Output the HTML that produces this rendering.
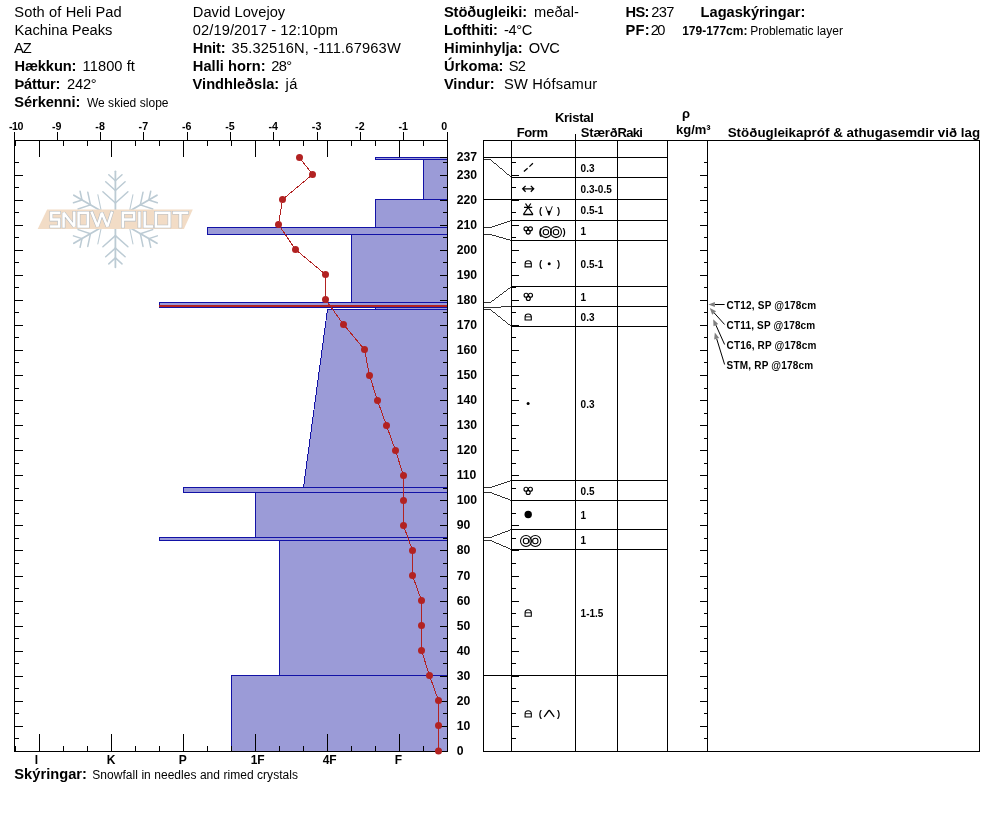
<!DOCTYPE html>
<html><head><meta charset="utf-8"><title>Snow profile</title>
<style>html,body{margin:0;padding:0;background:#fff;}svg{display:block;font-family:"Liberation Sans",sans-serif;will-change:transform;}</style>
</head><body>
<svg width="994" height="840" viewBox="0 0 994 840">
<rect width="994" height="840" fill="#fff"/>
<g stroke="#bccbd4" fill="none" stroke-linecap="round">
<g transform="rotate(0 115.4 219.3)"><line x1="115.4" y1="215.3" x2="115.4" y2="171.3" stroke-width="1.8"/><line x1="115.4" y1="180.70000000000002" x2="108.8" y2="174.7" stroke-width="1.5"/><line x1="115.4" y1="180.70000000000002" x2="122.0" y2="174.7" stroke-width="1.5"/><line x1="115.4" y1="190.5" x2="105.7" y2="181.8" stroke-width="1.5"/><line x1="115.4" y1="190.5" x2="125.1" y2="181.8" stroke-width="1.5"/><line x1="115.4" y1="203.0" x2="102.9" y2="191.8" stroke-width="1.5"/><line x1="115.4" y1="203.0" x2="127.9" y2="191.8" stroke-width="1.5"/></g>
<g transform="rotate(60 115.4 219.3)"><line x1="115.4" y1="215.3" x2="115.4" y2="171.3" stroke-width="1.8"/><line x1="115.4" y1="180.70000000000002" x2="108.8" y2="174.7" stroke-width="1.5"/><line x1="115.4" y1="180.70000000000002" x2="122.0" y2="174.7" stroke-width="1.5"/><line x1="115.4" y1="190.5" x2="105.7" y2="181.8" stroke-width="1.5"/><line x1="115.4" y1="190.5" x2="125.1" y2="181.8" stroke-width="1.5"/><line x1="115.4" y1="203.0" x2="102.9" y2="191.8" stroke-width="1.05"/><line x1="115.4" y1="203.0" x2="127.9" y2="191.8" stroke-width="1.05"/></g>
<g transform="rotate(120 115.4 219.3)"><line x1="115.4" y1="215.3" x2="115.4" y2="171.3" stroke-width="1.8"/><line x1="115.4" y1="180.70000000000002" x2="108.8" y2="174.7" stroke-width="1.5"/><line x1="115.4" y1="180.70000000000002" x2="122.0" y2="174.7" stroke-width="1.5"/><line x1="115.4" y1="190.5" x2="105.7" y2="181.8" stroke-width="1.5"/><line x1="115.4" y1="190.5" x2="125.1" y2="181.8" stroke-width="1.5"/><line x1="115.4" y1="203.0" x2="102.9" y2="191.8" stroke-width="1.05"/><line x1="115.4" y1="203.0" x2="127.9" y2="191.8" stroke-width="1.05"/></g>
<g transform="rotate(180 115.4 219.3)"><line x1="115.4" y1="215.3" x2="115.4" y2="171.3" stroke-width="1.8"/><line x1="115.4" y1="180.70000000000002" x2="108.8" y2="174.7" stroke-width="1.5"/><line x1="115.4" y1="180.70000000000002" x2="122.0" y2="174.7" stroke-width="1.5"/><line x1="115.4" y1="190.5" x2="105.7" y2="181.8" stroke-width="1.5"/><line x1="115.4" y1="190.5" x2="125.1" y2="181.8" stroke-width="1.5"/><line x1="115.4" y1="203.0" x2="102.9" y2="191.8" stroke-width="1.5"/><line x1="115.4" y1="203.0" x2="127.9" y2="191.8" stroke-width="1.5"/></g>
<g transform="rotate(240 115.4 219.3)"><line x1="115.4" y1="215.3" x2="115.4" y2="171.3" stroke-width="1.8"/><line x1="115.4" y1="180.70000000000002" x2="108.8" y2="174.7" stroke-width="1.5"/><line x1="115.4" y1="180.70000000000002" x2="122.0" y2="174.7" stroke-width="1.5"/><line x1="115.4" y1="190.5" x2="105.7" y2="181.8" stroke-width="1.5"/><line x1="115.4" y1="190.5" x2="125.1" y2="181.8" stroke-width="1.5"/><line x1="115.4" y1="203.0" x2="102.9" y2="191.8" stroke-width="1.05"/><line x1="115.4" y1="203.0" x2="127.9" y2="191.8" stroke-width="1.05"/></g>
<g transform="rotate(300 115.4 219.3)"><line x1="115.4" y1="215.3" x2="115.4" y2="171.3" stroke-width="1.8"/><line x1="115.4" y1="180.70000000000002" x2="108.8" y2="174.7" stroke-width="1.5"/><line x1="115.4" y1="180.70000000000002" x2="122.0" y2="174.7" stroke-width="1.5"/><line x1="115.4" y1="190.5" x2="105.7" y2="181.8" stroke-width="1.5"/><line x1="115.4" y1="190.5" x2="125.1" y2="181.8" stroke-width="1.5"/><line x1="115.4" y1="203.0" x2="102.9" y2="191.8" stroke-width="1.05"/><line x1="115.4" y1="203.0" x2="127.9" y2="191.8" stroke-width="1.05"/></g>
</g>
<polygon points="47.1,209.6 192.8,209.6 183.9,228.9 37.7,228.9" fill="#f2dcc6"/>
<path d="M59.1,212.8 H51.3 V219.6 H59.1 V226.5 H51.3 M63.6,226.5 V212.8 L74.3,226.5 V212.8 M78.6,212.8 H87.8 V226.5 H78.6 Z M91.9,212.8 L97.5,226.5 L101.8,212.8 L107.4,226.5 L111.7,212.8 M122.9,226.5 V212.8 H134.1 V219.6 H122.9 M139.4,212.8 V226.5 M144.7,212.8 V226.5 H151.8 M155.9,212.8 H169.4 V226.5 H155.9 Z M174,212.8 H187.1 M180.4,212.8 V226.5" fill="none" stroke="#b4bcc3" stroke-width="3.6" stroke-linejoin="miter" stroke-miterlimit="1.5" stroke-linecap="square"/>
<path d="M59.1,212.8 H51.3 V219.6 H59.1 V226.5 H51.3 M63.6,226.5 V212.8 L74.3,226.5 V212.8 M78.6,212.8 H87.8 V226.5 H78.6 Z M91.9,212.8 L97.5,226.5 L101.8,212.8 L107.4,226.5 L111.7,212.8 M122.9,226.5 V212.8 H134.1 V219.6 H122.9 M139.4,212.8 V226.5 M144.7,212.8 V226.5 H151.8 M155.9,212.8 H169.4 V226.5 H155.9 Z M174,212.8 H187.1 M180.4,212.8 V226.5" fill="none" stroke="#ffffff" stroke-width="2.5" stroke-linejoin="miter" stroke-miterlimit="1.5" stroke-linecap="square"/>
<text x="14.30" y="16.6" font-size="14.67" font-weight="normal" textLength="107.46" fill="#000" >Soth of Heli Pad</text>
<text x="14.50" y="34.6" font-size="14.67" font-weight="normal" textLength="97.95" fill="#000" >Kachina Peaks</text>
<text x="14.00" y="52.6" font-size="14.67" font-weight="normal" textLength="17.74" fill="#000" >AZ</text>
<text x="14.40" y="70.6" font-size="14.67" font-weight="bold" textLength="62.05" fill="#000" >Hækkun:</text>
<text x="82.60" y="70.6" font-size="14.67" font-weight="normal" textLength="52.32" fill="#000" >11800 ft</text>
<text x="14.40" y="88.6" font-size="14.67" font-weight="bold" textLength="46.10" fill="#000" >Þáttur:</text>
<text x="67.00" y="88.6" font-size="14.67" font-weight="normal" textLength="29.70" fill="#000" >242°</text>
<text x="14.30" y="106.6" font-size="14.67" font-weight="bold" textLength="66.02" fill="#000" >Sérkenni:</text>
<text x="86.90" y="106.6" font-size="12" font-weight="normal" textLength="81.63" fill="#000" >We skied slope</text>
<text x="192.80" y="16.6" font-size="14.67" font-weight="normal" textLength="92.38" fill="#000" >David Lovejoy</text>
<text x="192.80" y="34.6" font-size="14.67" font-weight="normal" textLength="145.17" fill="#000" >02/19/2017 - 12:10pm</text>
<text x="192.80" y="52.6" font-size="14.67" font-weight="bold" textLength="32.75" fill="#000" >Hnit:</text>
<text x="231.60" y="52.6" font-size="14.67" font-weight="normal" textLength="169.13" fill="#000" >35.32516N, -111.67963W</text>
<text x="192.80" y="70.6" font-size="14.67" font-weight="bold" textLength="72.86" fill="#000" >Halli horn:</text>
<text x="271.30" y="70.6" font-size="14.67" font-weight="normal" textLength="20.89" fill="#000" >28°</text>
<text x="192.60" y="88.6" font-size="14.67" font-weight="bold" textLength="86.66" fill="#000" >Vindhleðsla:</text>
<text x="285.59" y="88.6" font-size="14.67" font-weight="normal" textLength="11.79" fill="#000" >já</text>
<text x="443.90" y="16.6" font-size="14.67" font-weight="bold" textLength="83.16" fill="#000" >Stöðugleiki:</text>
<text x="534.00" y="16.6" font-size="14.67" font-weight="normal" textLength="44.85" fill="#000" >meðal-</text>
<text x="444.10" y="34.6" font-size="14.67" font-weight="bold" textLength="53.73" fill="#000" >Lofthiti:</text>
<text x="504.00" y="34.6" font-size="14.67" font-weight="normal" textLength="28.34" fill="#000" >-4°C</text>
<text x="444.10" y="52.6" font-size="14.67" font-weight="bold" textLength="78.45" fill="#000" >Himinhylja:</text>
<text x="528.80" y="52.6" font-size="14.67" font-weight="normal" textLength="31.14" fill="#000" >OVC</text>
<text x="444.10" y="70.6" font-size="14.67" font-weight="bold" textLength="59.35" fill="#000" >Úrkoma:</text>
<text x="508.70" y="70.6" font-size="14.67" font-weight="normal" textLength="17.31" fill="#000" >S2</text>
<text x="443.90" y="88.6" font-size="14.67" font-weight="bold" textLength="50.74" fill="#000" >Vindur:</text>
<text x="504.00" y="88.6" font-size="14.67" font-weight="normal" textLength="93.21" fill="#000" >SW Hófsamur</text>
<text x="625.60" y="16.6" font-size="14.67" font-weight="bold" textLength="23.84" fill="#000" >HS:</text>
<text x="651.30" y="16.6" font-size="14.67" font-weight="normal" textLength="23.12" fill="#000" >237</text>
<text x="625.60" y="34.6" font-size="14.67" font-weight="bold" textLength="23.96" fill="#000" >PF:</text>
<text x="650.70" y="34.6" font-size="14.67" font-weight="normal" textLength="14.81" fill="#000" >20</text>
<text x="700.60" y="16.6" font-size="14.67" font-weight="bold" textLength="104.77" fill="#000" >Lagaskýringar:</text>
<text x="682.20" y="34.6" font-size="12" font-weight="bold" textLength="65.20" fill="#000" >179-177cm:</text>
<text x="750.20" y="34.6" font-size="12" font-weight="normal" textLength="92.75" fill="#000" >Problematic layer</text>
<g shape-rendering="crispEdges">
<polygon points="375.5,157.5 447.5,157.5 447.5,159.5 375.5,159.5" fill="#9b9bd7"/>
<polygon points="423.5,159.5 447.5,159.5 447.5,199.5 423.5,199.5" fill="#9b9bd7"/>
<polygon points="375.5,199.5 447.5,199.5 447.5,227.5 375.5,227.5" fill="#9b9bd7"/>
<polygon points="207.5,227.5 447.5,227.5 447.5,234.5 207.5,234.5" fill="#9b9bd7"/>
<polygon points="351.5,234.5 447.5,234.5 447.5,302.5 351.5,302.5" fill="#9b9bd7"/>
<polygon points="159.5,302.5 447.5,302.5 447.5,307.5 159.5,307.5" fill="#9b9bd7"/>
<polygon points="375.5,307.5 447.5,307.5 447.5,309.5 375.5,309.5" fill="#9b9bd7"/>
<polygon points="327.5,309.5 447.5,309.5 447.5,487.5 303.5,487.5" fill="#9b9bd7"/>
<polygon points="183.5,487.5 447.5,487.5 447.5,492.5 183.5,492.5" fill="#9b9bd7"/>
<polygon points="255.5,492.5 447.5,492.5 447.5,537.5 255.5,537.5" fill="#9b9bd7"/>
<polygon points="159.5,537.5 447.5,537.5 447.5,540.5 159.5,540.5" fill="#9b9bd7"/>
<polygon points="279.5,540.5 447.5,540.5 447.5,675.5 279.5,675.5" fill="#9b9bd7"/>
<polygon points="231.5,675.5 447.5,675.5 447.5,751.5 231.5,751.5" fill="#9b9bd7"/>
</g>
<g shape-rendering="crispEdges">
<rect x="375" y="157" width="73" height="1" fill="#1212a6"/>
<rect x="375" y="159" width="73" height="1" fill="#1212a6"/>
<rect x="375" y="157" width="1" height="3" fill="#1212a6"/>
<rect x="423" y="159" width="25" height="1" fill="#1212a6"/>
<rect x="423" y="199" width="25" height="1" fill="#1212a6"/>
<rect x="423" y="159" width="1" height="41" fill="#1212a6"/>
<rect x="375" y="199" width="73" height="1" fill="#1212a6"/>
<rect x="375" y="227" width="73" height="1" fill="#1212a6"/>
<rect x="375" y="199" width="1" height="29" fill="#1212a6"/>
<rect x="207" y="227" width="241" height="1" fill="#1212a6"/>
<rect x="207" y="234" width="241" height="1" fill="#1212a6"/>
<rect x="207" y="227" width="1" height="8" fill="#1212a6"/>
<rect x="351" y="234" width="97" height="1" fill="#1212a6"/>
<rect x="351" y="302" width="97" height="1" fill="#1212a6"/>
<rect x="351" y="234" width="1" height="69" fill="#1212a6"/>
<rect x="159" y="302" width="289" height="1" fill="#1212a6"/>
<rect x="159" y="307" width="289" height="1" fill="#1212a6"/>
<rect x="159" y="302" width="1" height="6" fill="#1212a6"/>
<rect x="375" y="307" width="73" height="1" fill="#1212a6"/>
<rect x="375" y="309" width="73" height="1" fill="#1212a6"/>
<rect x="375" y="307" width="1" height="3" fill="#1212a6"/>
<rect x="327" y="309" width="121" height="1" fill="#1212a6"/>
<rect x="303" y="487" width="145" height="1" fill="#1212a6"/>
<rect x="183" y="487" width="265" height="1" fill="#1212a6"/>
<rect x="183" y="492" width="265" height="1" fill="#1212a6"/>
<rect x="183" y="487" width="1" height="6" fill="#1212a6"/>
<rect x="255" y="492" width="193" height="1" fill="#1212a6"/>
<rect x="255" y="537" width="193" height="1" fill="#1212a6"/>
<rect x="255" y="492" width="1" height="46" fill="#1212a6"/>
<rect x="159" y="537" width="289" height="1" fill="#1212a6"/>
<rect x="159" y="540" width="289" height="1" fill="#1212a6"/>
<rect x="159" y="537" width="1" height="4" fill="#1212a6"/>
<rect x="279" y="540" width="169" height="1" fill="#1212a6"/>
<rect x="279" y="675" width="169" height="1" fill="#1212a6"/>
<rect x="279" y="540" width="1" height="136" fill="#1212a6"/>
<rect x="231" y="675" width="217" height="1" fill="#1212a6"/>
<rect x="231" y="751" width="217" height="1" fill="#1212a6"/>
<rect x="231" y="675" width="1" height="77" fill="#1212a6"/>
</g>
<line x1="327.5" y1="309.5" x2="303.5" y2="487.5" stroke="#1212a6" stroke-width="1" shape-rendering="crispEdges"/>
<rect x="159" y="305" width="288" height="2" fill="#b22222" shape-rendering="crispEdges"/>
<g shape-rendering="crispEdges">
<rect x="14" y="140" width="434" height="1" fill="#000"/>
<rect x="14" y="751" width="434" height="1" fill="#000"/>
<rect x="14" y="132" width="1" height="620" fill="#000"/>
<rect x="447" y="132" width="1" height="620" fill="#000"/>
<rect x="14" y="132" width="1" height="8" fill="#000"/>
<rect x="57" y="132" width="1" height="8" fill="#000"/>
<rect x="100" y="132" width="1" height="8" fill="#000"/>
<rect x="143" y="132" width="1" height="8" fill="#000"/>
<rect x="187" y="132" width="1" height="8" fill="#000"/>
<rect x="230" y="132" width="1" height="8" fill="#000"/>
<rect x="273" y="132" width="1" height="8" fill="#000"/>
<rect x="317" y="132" width="1" height="8" fill="#000"/>
<rect x="360" y="132" width="1" height="8" fill="#000"/>
<rect x="403" y="132" width="1" height="8" fill="#000"/>
<rect x="447" y="132" width="1" height="8" fill="#000"/>
<rect x="15" y="141" width="1" height="5" fill="#000"/>
<rect x="15" y="746" width="1" height="5" fill="#000"/>
<rect x="39" y="141" width="1" height="16" fill="#000"/>
<rect x="39" y="734" width="1" height="17" fill="#000"/>
<rect x="63" y="141" width="1" height="5" fill="#000"/>
<rect x="63" y="746" width="1" height="5" fill="#000"/>
<rect x="87" y="141" width="1" height="5" fill="#000"/>
<rect x="87" y="746" width="1" height="5" fill="#000"/>
<rect x="111" y="141" width="1" height="16" fill="#000"/>
<rect x="111" y="734" width="1" height="17" fill="#000"/>
<rect x="135" y="141" width="1" height="5" fill="#000"/>
<rect x="135" y="746" width="1" height="5" fill="#000"/>
<rect x="159" y="141" width="1" height="5" fill="#000"/>
<rect x="159" y="746" width="1" height="5" fill="#000"/>
<rect x="183" y="141" width="1" height="16" fill="#000"/>
<rect x="183" y="734" width="1" height="17" fill="#000"/>
<rect x="207" y="141" width="1" height="5" fill="#000"/>
<rect x="207" y="746" width="1" height="5" fill="#000"/>
<rect x="231" y="141" width="1" height="5" fill="#000"/>
<rect x="231" y="746" width="1" height="5" fill="#000"/>
<rect x="255" y="141" width="1" height="16" fill="#000"/>
<rect x="255" y="734" width="1" height="17" fill="#000"/>
<rect x="279" y="141" width="1" height="5" fill="#000"/>
<rect x="279" y="746" width="1" height="5" fill="#000"/>
<rect x="303" y="141" width="1" height="5" fill="#000"/>
<rect x="303" y="746" width="1" height="5" fill="#000"/>
<rect x="327" y="141" width="1" height="16" fill="#000"/>
<rect x="327" y="734" width="1" height="17" fill="#000"/>
<rect x="351" y="141" width="1" height="5" fill="#000"/>
<rect x="351" y="746" width="1" height="5" fill="#000"/>
<rect x="375" y="141" width="1" height="5" fill="#000"/>
<rect x="375" y="746" width="1" height="5" fill="#000"/>
<rect x="399" y="141" width="1" height="16" fill="#000"/>
<rect x="399" y="734" width="1" height="17" fill="#000"/>
<rect x="423" y="141" width="1" height="5" fill="#000"/>
<rect x="423" y="746" width="1" height="5" fill="#000"/>
<rect x="447" y="141" width="1" height="5" fill="#000"/>
<rect x="447" y="746" width="1" height="5" fill="#000"/>
<rect x="15" y="751" width="8" height="1" fill="#000"/>
<rect x="440" y="751" width="7" height="1" fill="#000"/>
<rect x="15" y="738" width="4" height="1" fill="#000"/>
<rect x="443" y="738" width="4" height="1" fill="#000"/>
<rect x="15" y="726" width="8" height="1" fill="#000"/>
<rect x="440" y="726" width="7" height="1" fill="#000"/>
<rect x="15" y="713" width="4" height="1" fill="#000"/>
<rect x="443" y="713" width="4" height="1" fill="#000"/>
<rect x="15" y="701" width="8" height="1" fill="#000"/>
<rect x="440" y="701" width="7" height="1" fill="#000"/>
<rect x="15" y="688" width="4" height="1" fill="#000"/>
<rect x="443" y="688" width="4" height="1" fill="#000"/>
<rect x="15" y="676" width="8" height="1" fill="#000"/>
<rect x="440" y="676" width="7" height="1" fill="#000"/>
<rect x="15" y="663" width="4" height="1" fill="#000"/>
<rect x="443" y="663" width="4" height="1" fill="#000"/>
<rect x="15" y="651" width="8" height="1" fill="#000"/>
<rect x="440" y="651" width="7" height="1" fill="#000"/>
<rect x="15" y="638" width="4" height="1" fill="#000"/>
<rect x="443" y="638" width="4" height="1" fill="#000"/>
<rect x="15" y="626" width="8" height="1" fill="#000"/>
<rect x="440" y="626" width="7" height="1" fill="#000"/>
<rect x="15" y="613" width="4" height="1" fill="#000"/>
<rect x="443" y="613" width="4" height="1" fill="#000"/>
<rect x="15" y="601" width="8" height="1" fill="#000"/>
<rect x="440" y="601" width="7" height="1" fill="#000"/>
<rect x="15" y="588" width="4" height="1" fill="#000"/>
<rect x="443" y="588" width="4" height="1" fill="#000"/>
<rect x="15" y="576" width="8" height="1" fill="#000"/>
<rect x="440" y="576" width="7" height="1" fill="#000"/>
<rect x="15" y="563" width="4" height="1" fill="#000"/>
<rect x="443" y="563" width="4" height="1" fill="#000"/>
<rect x="15" y="550" width="8" height="1" fill="#000"/>
<rect x="440" y="550" width="7" height="1" fill="#000"/>
<rect x="15" y="538" width="4" height="1" fill="#000"/>
<rect x="443" y="538" width="4" height="1" fill="#000"/>
<rect x="15" y="525" width="8" height="1" fill="#000"/>
<rect x="440" y="525" width="7" height="1" fill="#000"/>
<rect x="15" y="513" width="4" height="1" fill="#000"/>
<rect x="443" y="513" width="4" height="1" fill="#000"/>
<rect x="15" y="500" width="8" height="1" fill="#000"/>
<rect x="440" y="500" width="7" height="1" fill="#000"/>
<rect x="15" y="488" width="4" height="1" fill="#000"/>
<rect x="443" y="488" width="4" height="1" fill="#000"/>
<rect x="15" y="475" width="8" height="1" fill="#000"/>
<rect x="440" y="475" width="7" height="1" fill="#000"/>
<rect x="15" y="463" width="4" height="1" fill="#000"/>
<rect x="443" y="463" width="4" height="1" fill="#000"/>
<rect x="15" y="450" width="8" height="1" fill="#000"/>
<rect x="440" y="450" width="7" height="1" fill="#000"/>
<rect x="15" y="438" width="4" height="1" fill="#000"/>
<rect x="443" y="438" width="4" height="1" fill="#000"/>
<rect x="15" y="425" width="8" height="1" fill="#000"/>
<rect x="440" y="425" width="7" height="1" fill="#000"/>
<rect x="15" y="413" width="4" height="1" fill="#000"/>
<rect x="443" y="413" width="4" height="1" fill="#000"/>
<rect x="15" y="400" width="8" height="1" fill="#000"/>
<rect x="440" y="400" width="7" height="1" fill="#000"/>
<rect x="15" y="388" width="4" height="1" fill="#000"/>
<rect x="443" y="388" width="4" height="1" fill="#000"/>
<rect x="15" y="375" width="8" height="1" fill="#000"/>
<rect x="440" y="375" width="7" height="1" fill="#000"/>
<rect x="15" y="362" width="4" height="1" fill="#000"/>
<rect x="443" y="362" width="4" height="1" fill="#000"/>
<rect x="15" y="350" width="8" height="1" fill="#000"/>
<rect x="440" y="350" width="7" height="1" fill="#000"/>
<rect x="15" y="337" width="4" height="1" fill="#000"/>
<rect x="443" y="337" width="4" height="1" fill="#000"/>
<rect x="15" y="325" width="8" height="1" fill="#000"/>
<rect x="440" y="325" width="7" height="1" fill="#000"/>
<rect x="15" y="312" width="4" height="1" fill="#000"/>
<rect x="443" y="312" width="4" height="1" fill="#000"/>
<rect x="15" y="300" width="8" height="1" fill="#000"/>
<rect x="440" y="300" width="7" height="1" fill="#000"/>
<rect x="15" y="287" width="4" height="1" fill="#000"/>
<rect x="443" y="287" width="4" height="1" fill="#000"/>
<rect x="15" y="275" width="8" height="1" fill="#000"/>
<rect x="440" y="275" width="7" height="1" fill="#000"/>
<rect x="15" y="262" width="4" height="1" fill="#000"/>
<rect x="443" y="262" width="4" height="1" fill="#000"/>
<rect x="15" y="250" width="8" height="1" fill="#000"/>
<rect x="440" y="250" width="7" height="1" fill="#000"/>
<rect x="15" y="237" width="4" height="1" fill="#000"/>
<rect x="443" y="237" width="4" height="1" fill="#000"/>
<rect x="15" y="225" width="8" height="1" fill="#000"/>
<rect x="440" y="225" width="7" height="1" fill="#000"/>
<rect x="15" y="212" width="4" height="1" fill="#000"/>
<rect x="443" y="212" width="4" height="1" fill="#000"/>
<rect x="15" y="200" width="8" height="1" fill="#000"/>
<rect x="440" y="200" width="7" height="1" fill="#000"/>
<rect x="15" y="187" width="4" height="1" fill="#000"/>
<rect x="443" y="187" width="4" height="1" fill="#000"/>
<rect x="15" y="175" width="8" height="1" fill="#000"/>
<rect x="440" y="175" width="7" height="1" fill="#000"/>
<rect x="15" y="162" width="4" height="1" fill="#000"/>
<rect x="443" y="162" width="4" height="1" fill="#000"/>
<rect x="440" y="157" width="7" height="1" fill="#000"/>
</g>
<text x="8.90" y="130" font-size="10.67" font-weight="bold" textLength="14.58" fill="#000" >-10</text>
<text x="52.00" y="130" font-size="10.67" font-weight="bold" textLength="9.55" fill="#000" >-9</text>
<text x="95.30" y="130" font-size="10.67" font-weight="bold" textLength="9.55" fill="#000" >-8</text>
<text x="138.60" y="130" font-size="10.67" font-weight="bold" textLength="9.55" fill="#000" >-7</text>
<text x="181.90" y="130" font-size="10.67" font-weight="bold" textLength="9.55" fill="#000" >-6</text>
<text x="225.20" y="130" font-size="10.67" font-weight="bold" textLength="9.55" fill="#000" >-5</text>
<text x="268.50" y="130" font-size="10.67" font-weight="bold" textLength="9.55" fill="#000" >-4</text>
<text x="311.80" y="130" font-size="10.67" font-weight="bold" textLength="9.55" fill="#000" >-3</text>
<text x="355.10" y="130" font-size="10.67" font-weight="bold" textLength="9.55" fill="#000" >-2</text>
<text x="398.40" y="130" font-size="10.67" font-weight="bold" textLength="9.55" fill="#000" >-1</text>
<text x="441.20" y="130" font-size="10.67" font-weight="bold" fill="#000" >0</text>
<text x="456.70" y="755.2" font-size="12.2" font-weight="bold" fill="#000" >0</text>
<text x="456.70" y="730.2" font-size="12.2" font-weight="bold" fill="#000" >10</text>
<text x="456.70" y="705.2" font-size="12.2" font-weight="bold" fill="#000" >20</text>
<text x="456.70" y="680.2" font-size="12.2" font-weight="bold" fill="#000" >30</text>
<text x="456.70" y="655.2" font-size="12.2" font-weight="bold" fill="#000" >40</text>
<text x="456.70" y="630.2" font-size="12.2" font-weight="bold" fill="#000" >50</text>
<text x="456.70" y="605.2" font-size="12.2" font-weight="bold" fill="#000" >60</text>
<text x="456.70" y="580.2" font-size="12.2" font-weight="bold" fill="#000" >70</text>
<text x="456.70" y="554.2" font-size="12.2" font-weight="bold" fill="#000" >80</text>
<text x="456.70" y="529.2" font-size="12.2" font-weight="bold" fill="#000" >90</text>
<text x="456.70" y="504.2" font-size="12.2" font-weight="bold" fill="#000" >100</text>
<text x="456.70" y="479.2" font-size="12.2" font-weight="bold" fill="#000" >110</text>
<text x="456.70" y="454.2" font-size="12.2" font-weight="bold" fill="#000" >120</text>
<text x="456.70" y="429.2" font-size="12.2" font-weight="bold" fill="#000" >130</text>
<text x="456.70" y="404.2" font-size="12.2" font-weight="bold" fill="#000" >140</text>
<text x="456.70" y="379.2" font-size="12.2" font-weight="bold" fill="#000" >150</text>
<text x="456.70" y="354.2" font-size="12.2" font-weight="bold" fill="#000" >160</text>
<text x="456.70" y="329.2" font-size="12.2" font-weight="bold" fill="#000" >170</text>
<text x="456.70" y="304.2" font-size="12.2" font-weight="bold" fill="#000" >180</text>
<text x="456.70" y="279.2" font-size="12.2" font-weight="bold" fill="#000" >190</text>
<text x="456.70" y="254.2" font-size="12.2" font-weight="bold" fill="#000" >200</text>
<text x="456.70" y="229.2" font-size="12.2" font-weight="bold" fill="#000" >210</text>
<text x="456.70" y="204.2" font-size="12.2" font-weight="bold" fill="#000" >220</text>
<text x="456.70" y="179.2" font-size="12.2" font-weight="bold" fill="#000" >230</text>
<text x="456.70" y="161.2" font-size="12.2" font-weight="bold" fill="#000" >237</text>
<text x="34.70" y="764.4" font-size="12" font-weight="bold" fill="#000" >I</text>
<text x="106.70" y="764.4" font-size="12" font-weight="bold" fill="#000" >K</text>
<text x="178.70" y="764.4" font-size="12" font-weight="bold" fill="#000" >P</text>
<text x="250.70" y="764.4" font-size="12" font-weight="bold" fill="#000" >1F</text>
<text x="322.70" y="764.4" font-size="12" font-weight="bold" fill="#000" >4F</text>
<text x="394.70" y="764.4" font-size="12" font-weight="bold" fill="#000" >F</text>
<text x="14.30" y="778.8" font-size="14.67" font-weight="bold" textLength="72.66" fill="#000" >Skýringar:</text>
<text x="92.30" y="778.8" font-size="12" font-weight="normal" textLength="205.67" fill="#000" >Snowfall in needles and rimed crystals</text>
<polyline points="299.5,157.5 312.5,174.5 282.5,199.5 278.5,224.5 295.5,249.5 325.5,274.5 325.5,299.5 343.5,324.5 364.5,349.5 369.5,375.5 377.5,400.5 386.5,425.5 395.5,450.5 403.5,475.5 403.5,500.5 403.5,525.5 412.5,550.5 412.5,575.5 421.5,600.5 421.5,625.5 421.5,650.5 429.5,675.5 438.5,700.5 438.5,725.5 438.5,751.0" fill="none" stroke="#b22222" stroke-width="1" shape-rendering="crispEdges"/>
<circle cx="299.5" cy="157.5" r="3.5" fill="#b22222"/>
<circle cx="312.5" cy="174.5" r="3.5" fill="#b22222"/>
<circle cx="282.5" cy="199.5" r="3.5" fill="#b22222"/>
<circle cx="278.5" cy="224.5" r="3.5" fill="#b22222"/>
<circle cx="295.5" cy="249.5" r="3.5" fill="#b22222"/>
<circle cx="325.5" cy="274.5" r="3.5" fill="#b22222"/>
<circle cx="325.5" cy="299.5" r="3.5" fill="#b22222"/>
<circle cx="343.5" cy="324.5" r="3.5" fill="#b22222"/>
<circle cx="364.5" cy="349.5" r="3.5" fill="#b22222"/>
<circle cx="369.5" cy="375.5" r="3.5" fill="#b22222"/>
<circle cx="377.5" cy="400.5" r="3.5" fill="#b22222"/>
<circle cx="386.5" cy="425.5" r="3.5" fill="#b22222"/>
<circle cx="395.5" cy="450.5" r="3.5" fill="#b22222"/>
<circle cx="403.5" cy="475.5" r="3.5" fill="#b22222"/>
<circle cx="403.5" cy="500.5" r="3.5" fill="#b22222"/>
<circle cx="403.5" cy="525.5" r="3.5" fill="#b22222"/>
<circle cx="412.5" cy="550.5" r="3.5" fill="#b22222"/>
<circle cx="412.5" cy="575.5" r="3.5" fill="#b22222"/>
<circle cx="421.5" cy="600.5" r="3.5" fill="#b22222"/>
<circle cx="421.5" cy="625.5" r="3.5" fill="#b22222"/>
<circle cx="421.5" cy="650.5" r="3.5" fill="#b22222"/>
<circle cx="429.5" cy="675.5" r="3.5" fill="#b22222"/>
<circle cx="438.5" cy="700.5" r="3.5" fill="#b22222"/>
<circle cx="438.5" cy="725.5" r="3.5" fill="#b22222"/>
<circle cx="438.5" cy="751.0" r="3.5" fill="#b22222"/>
<g shape-rendering="crispEdges">
<rect x="483" y="140" width="497" height="1" fill="#000"/>
<rect x="483" y="751" width="497" height="1" fill="#000"/>
<rect x="483" y="140" width="1" height="612" fill="#000"/>
<rect x="979" y="140" width="1" height="612" fill="#000"/>
<rect x="511" y="140" width="1" height="612" fill="#000"/>
<rect x="617" y="140" width="1" height="612" fill="#000"/>
<rect x="667" y="140" width="1" height="612" fill="#000"/>
<rect x="707" y="140" width="1" height="612" fill="#000"/>
<rect x="575" y="134" width="1" height="618" fill="#000"/>
<rect x="511" y="157" width="157" height="1" fill="#000"/>
<rect x="511" y="177" width="157" height="1" fill="#000"/>
<rect x="511" y="199" width="157" height="1" fill="#000"/>
<rect x="511" y="220" width="157" height="1" fill="#000"/>
<rect x="511" y="240" width="157" height="1" fill="#000"/>
<rect x="511" y="286" width="157" height="1" fill="#000"/>
<rect x="511" y="306" width="157" height="1" fill="#000"/>
<rect x="511" y="326" width="157" height="1" fill="#000"/>
<rect x="511" y="480" width="157" height="1" fill="#000"/>
<rect x="511" y="500" width="157" height="1" fill="#000"/>
<rect x="511" y="529" width="157" height="1" fill="#000"/>
<rect x="511" y="549" width="157" height="1" fill="#000"/>
<rect x="511" y="675" width="157" height="1" fill="#000"/>
<rect x="483" y="157" width="29" height="1" fill="#000"/>
<rect x="483" y="199" width="29" height="1" fill="#000"/>
<rect x="483" y="675" width="29" height="1" fill="#000"/>
<rect x="512" y="751" width="7" height="1" fill="#000"/>
<rect x="700" y="751" width="7" height="1" fill="#000"/>
<rect x="512" y="738" width="4" height="1" fill="#000"/>
<rect x="704" y="738" width="3" height="1" fill="#000"/>
<rect x="512" y="726" width="7" height="1" fill="#000"/>
<rect x="700" y="726" width="7" height="1" fill="#000"/>
<rect x="512" y="713" width="4" height="1" fill="#000"/>
<rect x="704" y="713" width="3" height="1" fill="#000"/>
<rect x="512" y="701" width="7" height="1" fill="#000"/>
<rect x="700" y="701" width="7" height="1" fill="#000"/>
<rect x="512" y="688" width="4" height="1" fill="#000"/>
<rect x="704" y="688" width="3" height="1" fill="#000"/>
<rect x="512" y="676" width="7" height="1" fill="#000"/>
<rect x="700" y="676" width="7" height="1" fill="#000"/>
<rect x="512" y="663" width="4" height="1" fill="#000"/>
<rect x="704" y="663" width="3" height="1" fill="#000"/>
<rect x="512" y="651" width="7" height="1" fill="#000"/>
<rect x="700" y="651" width="7" height="1" fill="#000"/>
<rect x="512" y="638" width="4" height="1" fill="#000"/>
<rect x="704" y="638" width="3" height="1" fill="#000"/>
<rect x="512" y="626" width="7" height="1" fill="#000"/>
<rect x="700" y="626" width="7" height="1" fill="#000"/>
<rect x="512" y="613" width="4" height="1" fill="#000"/>
<rect x="704" y="613" width="3" height="1" fill="#000"/>
<rect x="512" y="601" width="7" height="1" fill="#000"/>
<rect x="700" y="601" width="7" height="1" fill="#000"/>
<rect x="512" y="588" width="4" height="1" fill="#000"/>
<rect x="704" y="588" width="3" height="1" fill="#000"/>
<rect x="512" y="576" width="7" height="1" fill="#000"/>
<rect x="700" y="576" width="7" height="1" fill="#000"/>
<rect x="512" y="563" width="4" height="1" fill="#000"/>
<rect x="704" y="563" width="3" height="1" fill="#000"/>
<rect x="512" y="550" width="7" height="1" fill="#000"/>
<rect x="700" y="550" width="7" height="1" fill="#000"/>
<rect x="512" y="538" width="4" height="1" fill="#000"/>
<rect x="704" y="538" width="3" height="1" fill="#000"/>
<rect x="512" y="525" width="7" height="1" fill="#000"/>
<rect x="700" y="525" width="7" height="1" fill="#000"/>
<rect x="512" y="513" width="4" height="1" fill="#000"/>
<rect x="704" y="513" width="3" height="1" fill="#000"/>
<rect x="512" y="500" width="7" height="1" fill="#000"/>
<rect x="700" y="500" width="7" height="1" fill="#000"/>
<rect x="512" y="488" width="4" height="1" fill="#000"/>
<rect x="704" y="488" width="3" height="1" fill="#000"/>
<rect x="512" y="475" width="7" height="1" fill="#000"/>
<rect x="700" y="475" width="7" height="1" fill="#000"/>
<rect x="512" y="463" width="4" height="1" fill="#000"/>
<rect x="704" y="463" width="3" height="1" fill="#000"/>
<rect x="512" y="450" width="7" height="1" fill="#000"/>
<rect x="700" y="450" width="7" height="1" fill="#000"/>
<rect x="512" y="438" width="4" height="1" fill="#000"/>
<rect x="704" y="438" width="3" height="1" fill="#000"/>
<rect x="512" y="425" width="7" height="1" fill="#000"/>
<rect x="700" y="425" width="7" height="1" fill="#000"/>
<rect x="512" y="413" width="4" height="1" fill="#000"/>
<rect x="704" y="413" width="3" height="1" fill="#000"/>
<rect x="512" y="400" width="7" height="1" fill="#000"/>
<rect x="700" y="400" width="7" height="1" fill="#000"/>
<rect x="512" y="388" width="4" height="1" fill="#000"/>
<rect x="704" y="388" width="3" height="1" fill="#000"/>
<rect x="512" y="375" width="7" height="1" fill="#000"/>
<rect x="700" y="375" width="7" height="1" fill="#000"/>
<rect x="512" y="362" width="4" height="1" fill="#000"/>
<rect x="704" y="362" width="3" height="1" fill="#000"/>
<rect x="512" y="350" width="7" height="1" fill="#000"/>
<rect x="700" y="350" width="7" height="1" fill="#000"/>
<rect x="512" y="337" width="4" height="1" fill="#000"/>
<rect x="704" y="337" width="3" height="1" fill="#000"/>
<rect x="512" y="325" width="7" height="1" fill="#000"/>
<rect x="700" y="325" width="7" height="1" fill="#000"/>
<rect x="512" y="312" width="4" height="1" fill="#000"/>
<rect x="704" y="312" width="3" height="1" fill="#000"/>
<rect x="512" y="300" width="7" height="1" fill="#000"/>
<rect x="700" y="300" width="7" height="1" fill="#000"/>
<rect x="512" y="287" width="4" height="1" fill="#000"/>
<rect x="704" y="287" width="3" height="1" fill="#000"/>
<rect x="512" y="275" width="7" height="1" fill="#000"/>
<rect x="700" y="275" width="7" height="1" fill="#000"/>
<rect x="512" y="262" width="4" height="1" fill="#000"/>
<rect x="704" y="262" width="3" height="1" fill="#000"/>
<rect x="512" y="250" width="7" height="1" fill="#000"/>
<rect x="700" y="250" width="7" height="1" fill="#000"/>
<rect x="512" y="237" width="4" height="1" fill="#000"/>
<rect x="704" y="237" width="3" height="1" fill="#000"/>
<rect x="512" y="225" width="7" height="1" fill="#000"/>
<rect x="700" y="225" width="7" height="1" fill="#000"/>
<rect x="512" y="212" width="4" height="1" fill="#000"/>
<rect x="704" y="212" width="3" height="1" fill="#000"/>
<rect x="512" y="200" width="7" height="1" fill="#000"/>
<rect x="700" y="200" width="7" height="1" fill="#000"/>
<rect x="512" y="187" width="4" height="1" fill="#000"/>
<rect x="704" y="187" width="3" height="1" fill="#000"/>
<rect x="512" y="175" width="7" height="1" fill="#000"/>
<rect x="700" y="175" width="7" height="1" fill="#000"/>
<rect x="512" y="162" width="4" height="1" fill="#000"/>
<rect x="704" y="162" width="3" height="1" fill="#000"/>
</g>
<polyline points="483.5,159.5 490.4,159.5 511.5,177.5" fill="none" stroke="#000" stroke-width="0.8" shape-rendering="crispEdges"/>
<polyline points="483.5,227.5 490.4,227.5 511.5,220.5" fill="none" stroke="#000" stroke-width="0.8" shape-rendering="crispEdges"/>
<polyline points="483.5,234.5 490.4,234.5 511.5,240.5" fill="none" stroke="#000" stroke-width="0.8" shape-rendering="crispEdges"/>
<polyline points="483.5,302.5 490.4,302.5 511.5,286.5" fill="none" stroke="#000" stroke-width="0.8" shape-rendering="crispEdges"/>
<polyline points="483.5,307.5 490.4,307.5 511.5,306.5" fill="none" stroke="#000" stroke-width="0.8" shape-rendering="crispEdges"/>
<polyline points="483.5,309.5 490.4,309.5 511.5,326.5" fill="none" stroke="#000" stroke-width="0.8" shape-rendering="crispEdges"/>
<polyline points="483.5,487.5 490.4,487.5 511.5,480.5" fill="none" stroke="#000" stroke-width="0.8" shape-rendering="crispEdges"/>
<polyline points="483.5,492.5 490.4,492.5 511.5,500.5" fill="none" stroke="#000" stroke-width="0.8" shape-rendering="crispEdges"/>
<polyline points="483.5,537.5 490.4,537.5 511.5,529.5" fill="none" stroke="#000" stroke-width="0.8" shape-rendering="crispEdges"/>
<polyline points="483.5,540.5 490.4,540.5 511.5,549.5" fill="none" stroke="#000" stroke-width="0.8" shape-rendering="crispEdges"/>
<text x="554.90" y="121.6" font-size="13" font-weight="bold" textLength="38.96" fill="#000" >Kristal</text>
<text x="516.80" y="136.7" font-size="13" font-weight="bold" textLength="31.20" fill="#000" >Form</text>
<text x="580.80" y="136.7" font-size="13" font-weight="bold" textLength="36.86" fill="#000" >Stærð</text>
<text x="617.60" y="136.7" font-size="13" font-weight="bold" textLength="25.16" fill="#000" >Raki</text>
<text x="682.00" y="118.4" font-size="13" font-weight="bold" textLength="6.43" fill="#000" >ρ</text>
<text x="676.10" y="134.2" font-size="13" font-weight="bold" textLength="34.55" fill="#000" >kg/m³</text>
<text x="727.70" y="136.9" font-size="13.33" font-weight="bold" textLength="252.44" fill="#000" >Stöðugleikapróf &amp; athugasemdir við lag</text>
<text x="580.60" y="171.9" font-size="10" font-weight="bold" fill="#000" >0.3</text>
<text x="580.60" y="192.9" font-size="10" font-weight="bold" fill="#000" >0.3-0.5</text>
<text x="580.60" y="214.4" font-size="10" font-weight="bold" fill="#000" >0.5-1</text>
<text x="580.60" y="234.9" font-size="10" font-weight="bold" fill="#000" >1</text>
<text x="580.60" y="267.9" font-size="10" font-weight="bold" fill="#000" >0.5-1</text>
<text x="580.60" y="300.9" font-size="10" font-weight="bold" fill="#000" >1</text>
<text x="580.60" y="320.9" font-size="10" font-weight="bold" fill="#000" >0.3</text>
<text x="580.60" y="407.9" font-size="10" font-weight="bold" fill="#000" >0.3</text>
<text x="580.60" y="494.9" font-size="10" font-weight="bold" fill="#000" >0.5</text>
<text x="580.60" y="519.4" font-size="10" font-weight="bold" fill="#000" >1</text>
<text x="580.60" y="543.9" font-size="10" font-weight="bold" fill="#000" >1</text>
<text x="580.60" y="616.9" font-size="10" font-weight="bold" fill="#000" >1-1.5</text>
<path d="M523.9,171.6 L527.6,168.2 M529.4,166.6 L532.9,163.3" fill="none" stroke="#000" stroke-width="1.3" stroke-linecap="butt" />
<path d="M522.8,188.8 H533.6 M525.6,185.9 L522.7,188.8 L525.6,191.7 M530.8,185.9 L533.7,188.8 L530.8,191.7" fill="none" stroke="#000" stroke-width="1.3" stroke-linecap="butt" />
<path d="M523.3,214.5 L530.8,203.5 M533,214.5 L525.5,203.5 M523.3,214.5 H533 M524,207.4 H532.2" fill="none" stroke="#000" stroke-width="1.3" stroke-linecap="butt" />
<text x="539.00" y="213.6" font-size="9.5" font-weight="bold" fill="#000" >(</text>
<text x="556.90" y="213.6" font-size="9.5" font-weight="bold" fill="#000" >)</text>
<path d="M545.7,206.3 L549,215.2 L552.3,206.3" fill="none" stroke="#000" stroke-width="0.9"/>
<path d="M547.5,211.0 H550.5 L549,215.2 Z" fill="#000" stroke="#000" stroke-width="0.3"/>
<circle cx="526.0" cy="228.8" r="2.0" fill="none" stroke="#000" stroke-width="1.15"/>
<circle cx="530.4" cy="228.8" r="2.0" fill="none" stroke="#000" stroke-width="1.15"/>
<circle cx="528.2" cy="232.1" r="2.0" fill="none" stroke="#000" stroke-width="1.15"/>
<circle cx="545.9" cy="232.1" r="5.5" fill="none" stroke="#000" stroke-width="1.05"/>
<circle cx="545.9" cy="232.1" r="2.7" fill="none" stroke="#000" stroke-width="1.05"/>
<circle cx="556.0" cy="232.1" r="5.5" fill="none" stroke="#000" stroke-width="1.05"/>
<circle cx="556.0" cy="232.1" r="2.7" fill="none" stroke="#000" stroke-width="1.05"/>
<text x="538.80" y="234.6" font-size="9.5" font-weight="bold" fill="#000" >(</text>
<text x="562.60" y="234.6" font-size="9.5" font-weight="bold" fill="#000" >)</text>
<path d="M525.10,266.90 V263.70 A3.10,2.90 0 0 1 531.30,263.70 V266.90 Z" fill="none" stroke="#000" stroke-width="1.1"/>
<path d="M525.10,263.70 H531.30" fill="none" stroke="#000" stroke-width="0.9"/>
<text x="539.10" y="266.5" font-size="9.5" font-weight="bold" fill="#000" >(</text>
<text x="557.10" y="266.5" font-size="9.5" font-weight="bold" fill="#000" >)</text>
<circle cx="549.2" cy="263.7" r="1.5" fill="#000"/>
<circle cx="526.1" cy="295.2" r="2.0" fill="none" stroke="#000" stroke-width="1.15"/>
<circle cx="530.5" cy="295.2" r="2.0" fill="none" stroke="#000" stroke-width="1.15"/>
<circle cx="528.3" cy="298.5" r="2.0" fill="none" stroke="#000" stroke-width="1.15"/>
<path d="M525.10,320.00 V316.85 A3.10,2.85 0 0 1 531.30,316.85 V320.00 Z" fill="none" stroke="#000" stroke-width="1.1"/>
<path d="M525.10,316.85 H531.30" fill="none" stroke="#000" stroke-width="0.9"/>
<circle cx="528.1" cy="403.5" r="1.5" fill="#000"/>
<circle cx="526.0" cy="489.2" r="2.0" fill="none" stroke="#000" stroke-width="1.15"/>
<circle cx="530.4" cy="489.2" r="2.0" fill="none" stroke="#000" stroke-width="1.15"/>
<circle cx="528.2" cy="492.5" r="2.0" fill="none" stroke="#000" stroke-width="1.15"/>
<circle cx="528.2" cy="514.5" r="3.7" fill="#000"/>
<circle cx="526" cy="541" r="5.5" fill="none" stroke="#000" stroke-width="1.05"/>
<circle cx="526" cy="541" r="2.7" fill="none" stroke="#000" stroke-width="1.05"/>
<circle cx="535.3" cy="541" r="5.5" fill="none" stroke="#000" stroke-width="1.05"/>
<circle cx="535.3" cy="541" r="2.7" fill="none" stroke="#000" stroke-width="1.05"/>
<path d="M525.10,616.20 V612.79 A3.10,3.09 0 0 1 531.30,612.79 V616.20 Z" fill="none" stroke="#000" stroke-width="1.1"/>
<path d="M525.10,612.79 H531.30" fill="none" stroke="#000" stroke-width="0.9"/>
<path d="M525.10,717.00 V713.69 A3.10,2.99 0 0 1 531.30,713.69 V717.00 Z" fill="none" stroke="#000" stroke-width="1.1"/>
<path d="M525.10,713.69 H531.30" fill="none" stroke="#000" stroke-width="0.9"/>
<text x="538.70" y="716.7" font-size="9.5" font-weight="bold" fill="#000" >(</text>
<text x="557.00" y="716.7" font-size="9.5" font-weight="bold" fill="#000" >)</text>
<path d="M544.2,716.8 L548.4,711 Q549.2,709.9 550,711 L554.2,716.8" fill="none" stroke="#000" stroke-width="1.3" stroke-linecap="butt" />
<text x="726.60" y="308.7" font-size="10" font-weight="bold" textLength="89.67" fill="#000" >CT12, SP @178cm</text>
<text x="726.60" y="328.7" font-size="10" font-weight="bold" textLength="88.65" fill="#000" >CT11, SP @178cm</text>
<text x="726.60" y="348.7" font-size="10" font-weight="bold" textLength="89.73" fill="#000" >CT16, RP @178cm</text>
<text x="726.60" y="368.7" font-size="10" font-weight="bold" textLength="86.66" fill="#000" >STM, RP @178cm</text>
<line x1="724.6" y1="304.5" x2="714.9" y2="304.5" stroke="#000" stroke-width="1"/>
<polygon points="708.4,304.5 714.9,301.9 714.9,307.1" fill="#808080"/>
<line x1="724.6" y1="324.5" x2="714.2" y2="312.9" stroke="#000" stroke-width="1"/>
<polygon points="709.8,308.1 716.1,311.2 712.2,314.7" fill="#808080"/>
<line x1="724.6" y1="344.5" x2="715.9" y2="325.1" stroke="#000" stroke-width="1"/>
<polygon points="713.2,319.2 718.2,324.1 713.5,326.2" fill="#808080"/>
<line x1="724.6" y1="364.5" x2="716.7" y2="338.8" stroke="#000" stroke-width="1"/>
<polygon points="714.8,332.6 719.2,338.0 714.2,339.6" fill="#808080"/>
</svg>
</body></html>
